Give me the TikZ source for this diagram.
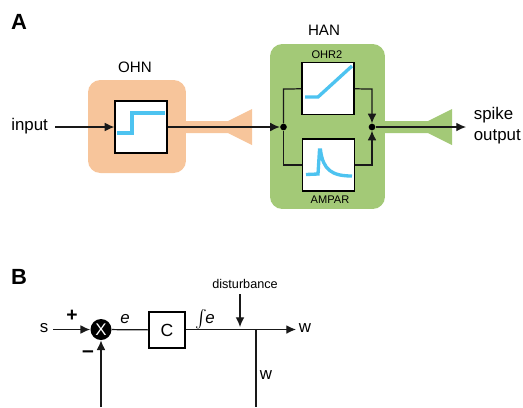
\documentclass[tikz,border=0pt]{standalone}
\usepackage{fontspec}
\setmainfont{Liberation Sans}
\usetikzlibrary{arrows.meta}
\definecolor{ohncol}{HTML}{F7C59B}
\definecolor{hancol}{HTML}{A3C977}
\definecolor{curvecol}{HTML}{4DC3F0}
\tikzset{
  cell/.style={draw=none,fill=#1,rounded corners=7pt,inner sep=0pt},
  filterbox/.style={draw,fill=white,line width=0.7pt,inner sep=0pt,minimum width=1.04cm,minimum height=1.04cm},
  curve/.style={curvecol,line width=1.9pt},
  wire/.style={line width=0.7pt,black!90},
  tip/.style={wire,-{Latex[length=5.5pt,width=5pt]}},
  caps/.style={inner sep=0pt,font=\fontsize{8.6}{10}\selectfont},
  txt/.style={inner sep=0pt,font=\fontsize{9.6}{11}\selectfont},
  small/.style={inner sep=0pt,font=\fontsize{6.3}{8}\selectfont},
  letter/.style={inner sep=0pt,font=\fontsize{12.5}{14}\selectfont\bfseries},
  joint/.style={circle,fill=black,inner sep=0pt,minimum size=3.8pt}
}
\begin{document}
\begin{tikzpicture}[x=0.02cm,y=-0.02cm]
	\useasboundingbox (0,0) rectangle (523,407);
	%PANEL A
	\node[letter] (labelA) at (19,22) {A};
	\node[cell=ohncol,minimum width=1.96cm,minimum height=1.86cm] (ohn) at (137,126.5) {};
	\node[cell=hancol,minimum width=2.3cm,minimum height=3.3cm] (han) at (327.5,126.5) {};
	\node[caps] (ohnlabel) at (135,67) {OHN};
	\node[caps] (hanlabel) at (324,30) {HAN};
	%axon wedges
	\fill[ohncol] (186,121) -- (228,121) -- (252,109) -- (252,145) -- (228,133) -- (186,133) -- cycle;
	\fill[hancol] (385,121) -- (428,121) -- (452,109) -- (452,145) -- (428,133) -- (385,133) -- cycle;
	%filters
	\node[filterbox] (step) at (141,127) {};
	\node[filterbox] (ohr) at (328,88.5) {};
	\node[filterbox] (ampar) at (328.5,165) {};
	\node[small] (ohrlabel) at (327,55) {OHR2};
	\node[small] (amparlabel) at (330,200) {AMPAR};
	\draw[curve] (117,133) -- (132,133) -- (132,113) -- (165,113);
	\draw[curve] (305,97) -- (318,97) -- (352,66);
	\draw[curve] (306,174.5) -- (318,174) -- (319.5,150) -- (320.5,150) .. controls (323,170) and (332,176) .. (352,176);
	%wiring
	\node[txt,anchor=west] (input) at (11,126) {input};
	\coordinate (inend) at (55,127);
	\coordinate (inup) at (283.5,89);
	\coordinate (indown) at (283.5,165);
	\coordinate (outup) at (372,89);
	\coordinate (outdown) at (372,165);
	\node[joint] (split) at (283.5,127) {};
	\node[joint] (merge) at (372,127) {};
	\coordinate (outend) at (466,127);
	\draw[tip] (inend) -- (step);
	\draw[tip] (step) -- (split);
	\draw[wire] (split) -- (inup) -- (ohr);
	\draw[wire] (split) -- (indown) -- (ampar);
	\draw[tip] (ohr) -- (outup) -- (merge);
	\draw[tip] (ampar) -- (outdown) -- (merge);
	\draw[tip] (merge) -- (outend);
	\node[txt,anchor=west] (spike) at (473.5,115.5) {spike};
	\node[txt,anchor=west] (output) at (473.5,137) {output};
	%PANEL B
	\node[letter] (labelB) at (19,277) {B};
	\node[circle,fill=black,text=white,minimum size=0.42cm,inner sep=0pt,font=\fontsize{9.6}{11}\selectfont] (mix) at (101,329.5) {X};
	\node[draw,fill=white,line width=0.6pt,minimum width=0.72cm,minimum height=0.72cm,inner sep=0pt,font=\fontsize{10}{12}\selectfont] (c) at (167,330) {C};
	\node[txt] (s) at (44,328) {s};
	\node[txt] (w) at (305,328) {w};
	\node[txt] (wfb) at (266,375) {w};
	\node[inner sep=0pt,font=\fontsize{11}{14}\selectfont\bfseries] (plus) at (72,316) {+};
	\node[inner sep=0pt,font=\fontsize{12}{14}\selectfont\bfseries] (minus) at (88,354) {--};
	\node[txt] (err) at (125,319) {\textit{e}};
	\node[txt] (interr) at (205,319) {$\int$\kern-1pt\textit{e}};
	\node[inner sep=0pt,font=\fontsize{7.2}{9}\selectfont] (dist) at (245,284) {disturbance};
	\coordinate (distend) at (240,294);
	\coordinate (distin) at (240,329.5);
	\coordinate (branch) at (256,329.5);
	\coordinate (wend) at (296,329.5);
	\coordinate (sstart) at (53,329.5);
	\coordinate (fbstart) at (101,407);
	\coordinate (fbend) at (256,407);
	\draw[tip] (sstart) -- (mix);
	\draw[wire] (mix) -- (c);
	\draw[tip] (c.east |- wend) -- (wend);
	\draw[tip] (distend) -- ([yshift=0.05cm]distin);
	\draw[wire] (branch) -- (fbend);
	\draw[tip] (fbstart) -- (mix);
\end{tikzpicture}
\end{document}
